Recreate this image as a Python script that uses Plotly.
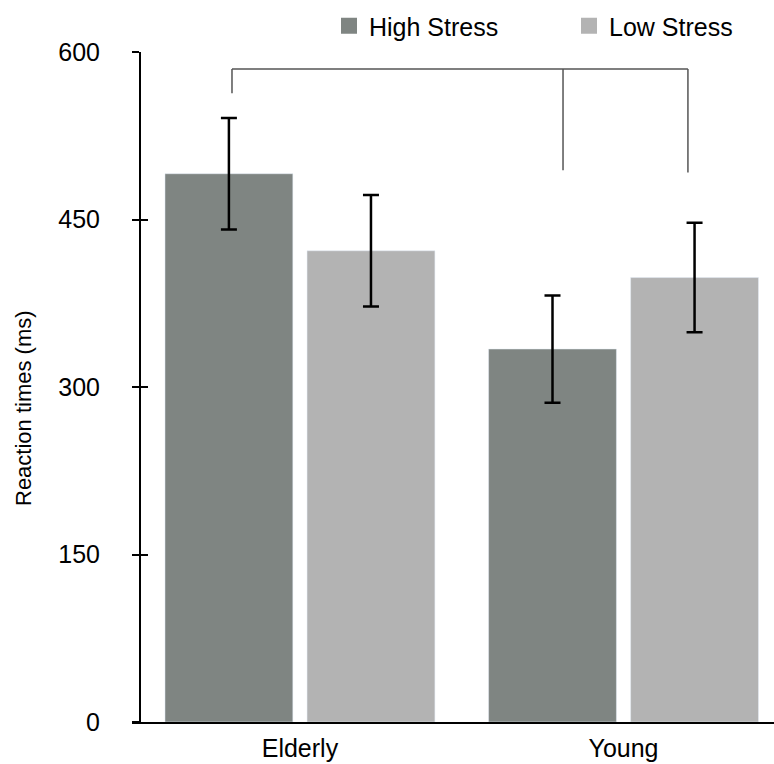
import plotly.graph_objects as go

groups = ["Elderly", "Young"]
high_stress = [491, 334]
high_err = [50, 48]
low_stress = [422, 398]
low_err = [50, 49]
y_ticks = [0, 150, 300, 450, 600]

FONT = "Liberation Sans, Arial, Helvetica, sans-serif"
DARK = "#7f8582"
LIGHT = "#b3b3b3"

fig = go.Figure()
fig.add_trace(go.Bar(
    x=groups, y=high_stress, name="High Stress", marker_color=DARK,
    showlegend=False,
    error_y=dict(type="data", array=high_err, color="black", thickness=2.5, width=8),
))
fig.add_trace(go.Bar(
    x=groups, y=low_stress, name="Low Stress", marker_color=LIGHT,
    showlegend=False,
    error_y=dict(type="data", array=low_err, color="black", thickness=2.5, width=8),
))
# legend entries (square swatches)
for nm, col in [("High Stress", DARK), ("Low Stress", LIGHT)]:
    fig.add_trace(go.Scatter(
        x=[None], y=[None], mode="markers", name=nm,
        marker=dict(symbol="square", size=16, color=col),
    ))
# overlay axis for inner half of crossing ticks
fig.add_trace(go.Scatter(x=[None], y=[None], yaxis="y2", showlegend=False,
                         hoverinfo="skip"))

# comparison bracket
LC = "#555555"
bx = [-0.21, 0.813, 1.199]
btop = 584.8
bbot = [563, 494, 492]
shapes = [dict(type="line", xref="x", yref="y", x0=bx[0], x1=bx[2], y0=btop, y1=btop,
               line=dict(color=LC, width=1.5))]
for xx, yb in zip(bx, bbot):
    shapes.append(dict(type="line", xref="x", yref="y", x0=xx, x1=xx, y0=btop, y1=yb,
                       line=dict(color=LC, width=1.5)))

W, H = 774, 764
L, R, T, B = 132, 0, 52, 42
pw = W - L - R
ph = H - T - B
ypos = 8 / pw

fig.update_layout(
    width=W, height=H,
    margin=dict(l=L, r=R, t=T, b=B, autoexpand=False),
    paper_bgcolor="white", plot_bgcolor="white",
    font=dict(family=FONT, size=25, color="black"),
    barmode="group", bargap=0.122, bargroupgap=0.1,
    shapes=shapes,
    showlegend=True,
    legend=dict(orientation="h", x=(329 - L) / pw, xanchor="left",
                y=(722 - 3) / ph, yanchor="top",
                font=dict(size=25), entrywidth=195, entrywidthmode="pixels",
                bgcolor="rgba(0,0,0,0)"),
    xaxis=dict(range=[-0.519, 1.465], showline=True, linecolor="black", linewidth=2,
               ticks="", showgrid=False, zeroline=False, ticklabelstandoff=3,
               tickfont=dict(size=25)),
    yaxis=dict(range=[0, 600], anchor="free", position=ypos, showline=True,
               linecolor="black", linewidth=2, ticks="outside", ticklen=7,
               tickwidth=2, tickcolor="black", tickvals=y_ticks,
               showgrid=False, zeroline=False, ticklabelstandoff=27,
               tickfont=dict(size=25)),
    yaxis2=dict(range=[0, 600], overlaying="y", anchor="free", position=ypos,
                showline=False, ticks="inside", ticklen=7, tickwidth=2,
                tickcolor="black", tickvals=y_ticks, showticklabels=False,
                showgrid=False, zeroline=False),
    annotations=[dict(text="Reaction times (ms)", xref="paper", yref="paper",
                      x=(24 - L) / pw, y=(722 - 408) / ph, textangle=-90,
                      showarrow=False, xanchor="center", yanchor="middle",
                      font=dict(size=22))],
)

fig.write_html("out.html")
